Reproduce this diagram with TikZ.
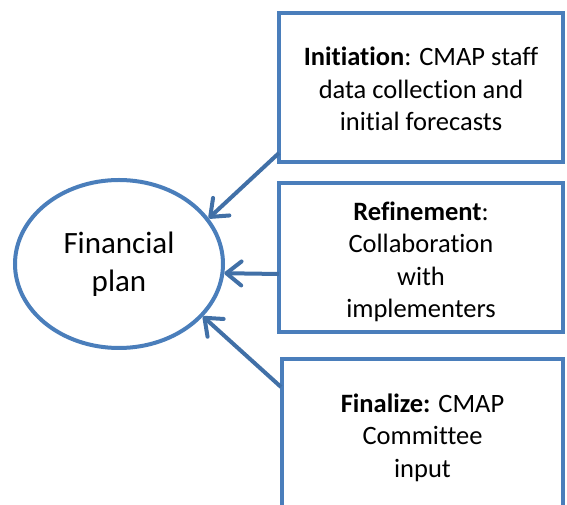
\documentclass[tikz,border=0pt]{standalone}
\usepackage{fontspec}
\setmainfont{Carlito}[Ligatures=NoCommon]
\usetikzlibrary{shapes.geometric,arrows.meta}
\definecolor{boxblue}{RGB}{74,126,187}
\definecolor{arrowblue}{RGB}{65,112,167}
\newcommand{\lowerstrut}{\rule{0pt}{27pt}}
\begin{document}
\begin{tikzpicture}[x=1pt,y=1pt,
  stagebox/.style={draw=boxblue, line width=4pt, minimum width=284pt, minimum height=149pt,
    align=center, inner sep=0pt, font=\fontsize{26.5}{32.5}\selectfont},
  planell/.style={ellipse, draw=boxblue, line width=4pt, minimum width=208pt, minimum height=168pt,
    align=center, inner sep=0pt, font=\fontsize{31}{38}\selectfont},
  feed/.style={draw=arrowblue, line width=4pt, -{Straight Barb[length=15pt,width=24pt,line cap=round,line join=round]}}]
\useasboundingbox (0,0) rectangle (567,505);
\begin{scope}
\clip (0,0) rectangle (567,505);
\node[planell] (fp) at (119,241) {Financial\\plan};
\node[stagebox] (b1) at (421,417.5) {\rule{0pt}{22pt}\textbf{Initiation}: CMAP staff\\data collection and\\initial forecasts};
\node[stagebox] (b2) at (421,247.5) {\lowerstrut\textbf{Refinement}:\\Collaboration\\with\\implementers};
\node[stagebox, minimum width=281pt] (b3) at (422.5,71.5) {\lowerstrut\textbf{Finalize:} CMAP\\Committee\\input};
\end{scope}
\coordinate (s1) at (279,352);
\coordinate (s2) at (279,231);
\coordinate (s3) at (281,118);
\draw[feed] (s1) -- (fp.27);
\draw[feed] (s2) -- (fp.-5.5);
\draw[feed] (s3) -- (fp.-32);
\end{tikzpicture}
\end{document}
